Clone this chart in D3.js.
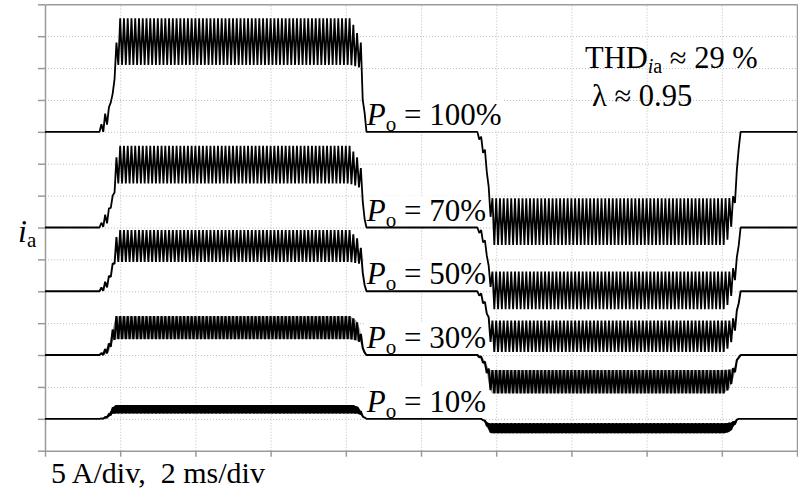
<!DOCTYPE html>
<html>
<head>
<meta charset="utf-8">
<script src="https://cdn.jsdelivr.net/npm/d3@7"></script>
<style>
body { margin: 0; background: #fff; }
svg { display: block; font-family: "Liberation Serif", "Times New Roman", serif; }
</style>
</head>
<body>
<svg id="chart" width="798" height="491"></svg>
<script>
// scope settings: 2 ms/div across, 5 A/div up
var timeTicks = [0, 2, 4, 6, 8, 10, 12, 14, 16, 18, 20];
var divTicks = [0, 1, 2, 3, 4, 5, 6, 7, 8, 9, 10, 11, 12, 13, 14];
var ampsPerDiv = 5;
var ripplePeriod = 0.1; // ms, switching ripple

var powerLabels = ["100%", "70%", "50%", "30%", "10%"];
var traceOffsets = [10, 7, 5, 3, 1]; // zero level of each trace, divisions from bottom

// envelopes: [time ms, upper A, lower A]
var env100 = [[0,0,0],[1.42,0,0],[1.50,1.2,0],[1.56,2.3,0],[1.64,3.4,1.0],[1.72,4.0,2.0],[1.76,6.0,5.5],[1.82,6.0,6.0],
  [1.90,14,12],[1.95,17.8,10.5],[8.12,17.8,10.5],[8.30,15.5,10.2],[8.40,14,10],[8.45,6,5],[8.55,0,0],
  [11.45,0,0],[11.55,0,-1.2],[11.65,-1.5,-3.3],[11.72,-3.3,-4],[11.78,-8,-8.6],[11.86,-10.4,-14],[11.92,-10.4,-17.75],
  [18.05,-10.4,-17.75],[18.20,-10.4,-16.5],[18.34,-10,-12],[18.40,-6,-7],[18.48,0,0],[20,0,0]];
var env70 = [[0,0,0],[1.44,0,0],[1.52,1.0,0],[1.60,2.0,0.3],[1.70,3.0,1.0],[1.76,4.5,3.5],[1.84,5.5,5],
  [1.90,11,8],[1.95,12.8,6.9],[8.10,12.8,6.9],[8.30,11,6.5],[8.42,9,6],[8.46,4,3.5],[8.52,0,0],
  [11.48,0,0],[11.56,0,-1],[11.66,-1,-2.5],[11.74,-3,-4],[11.80,-6,-6.5],[11.88,-6.9,-11],[11.93,-6.9,-12.8],
  [18.08,-6.9,-12.8],[18.22,-6.9,-11.5],[18.36,-6,-8],[18.42,-4,-4.5],[18.50,0,0],[20,0,0]];
var env50 = [[0,0,0],[1.44,0,0],[1.52,0.8,0],[1.60,1.5,0.2],[1.70,2.4,1.0],[1.78,3.5,3],[1.86,7,4.5],[1.93,9.6,4.6],
  [8.10,9.6,4.6],[8.30,8.3,4.4],[8.42,6.5,4.2],[8.46,3,2.5],[8.52,0,0],
  [11.48,0,0],[11.56,0,-0.8],[11.66,-0.8,-2],[11.74,-2.5,-3],[11.82,-4.6,-7],[11.90,-4.6,-9.5],
  [18.08,-4.6,-9.5],[18.22,-4.6,-8.5],[18.36,-4,-6],[18.42,-2.5,-3],[18.50,0,0],[20,0,0]];
var env30 = [[0,0,0],[1.44,0,0],[1.54,0.5,0],[1.64,1.2,0.2],[1.72,2,0.8],[1.80,4,2.2],[1.88,6.1,2.5],
  [8.12,6.1,2.5],[8.28,5.4,2.3],[8.38,4,2],[8.46,1.2,1],[8.52,0,0],
  [11.48,0,0],[11.56,0,-0.4],[11.66,-0.6,-1.3],[11.74,-1.5,-2.5],[11.82,-2.35,-5],[11.88,-2.35,-6],
  [18.06,-2.35,-6],[18.20,-2.3,-5.3],[18.32,-2,-3.5],[18.42,-0.5,-0.8],[18.48,0,0],[20,0,0]];
var env10 = [[0,0,0],[1.46,0,0],[1.60,0.3,0],[1.70,0.8,0.3],[1.80,1.8,0.8],[1.88,2.15,0.85],
  [8.20,2.15,0.85],[8.34,1.8,0.8],[8.44,0.8,0.4],[8.52,0,0],
  [11.62,0,0],[11.72,-0.3,-0.8],[11.80,-0.7,-1.8],[11.86,-0.7,-2.25],
  [18.08,-0.7,-2.25],[18.22,-0.6,-2.0],[18.34,-0.3,-1.0],[18.44,0,0],[20,0,0]];
var envelopes = [env100, env70, env50, env30, env10];

var svg = d3.select("#chart");
var plotLeft = 45, plotRight = 797, plotTop = 4.3, plotBottom = 450.7;

var x = d3.scaleLinear().domain([0, 20]).range([plotLeft, plotRight]);
var y = d3.scaleLinear().domain([0, 14]).range([plotBottom, plotTop]);

// dotted grid
svg.append("g")
    .attr("transform", "translate(" + plotLeft + ",0)")
    .call(d3.axisLeft(y).tickValues(divTicks.slice(1, -1)).tickSize(-(plotRight - plotLeft)).tickFormat(""))
    .call(function(g) { g.select(".domain").remove(); })
    .selectAll("line").attr("stroke", "#bdbdbd").attr("stroke-dasharray", "1,2");
svg.append("g")
    .attr("transform", "translate(0," + plotBottom + ")")
    .call(d3.axisBottom(x).tickValues(timeTicks.slice(1, -1)).tickSize(-(plotBottom - plotTop)).tickFormat(""))
    .call(function(g) { g.select(".domain").remove(); })
    .selectAll("line").attr("stroke", "#bdbdbd").attr("stroke-dasharray", "1,2");

// frame with ticks
var frame = "#9a9a9a";
svg.append("g")
    .attr("transform", "translate(" + plotLeft + ",0)")
    .call(d3.axisLeft(y).tickValues(divTicks).tickSize(7).tickSizeOuter(0).tickFormat(""))
    .call(function(g) { g.selectAll("line, path").attr("stroke", frame).attr("stroke-width", 1.5); });
svg.append("g")
    .attr("transform", "translate(0," + plotBottom + ")")
    .call(d3.axisBottom(x).tickValues(timeTicks).tickSize(6).tickSizeOuter(0).tickFormat(""))
    .call(function(g) { g.selectAll("line, path").attr("stroke", frame).attr("stroke-width", 1.5); });
svg.append("g")
    .attr("transform", "translate(0," + plotTop + ")")
    .call(d3.axisTop(x).tickValues([]).tickSizeOuter(0))
    .call(function(g) { g.selectAll("path").attr("stroke", frame).attr("stroke-width", 1.5); });
svg.append("g")
    .attr("transform", "translate(" + plotRight + ",0)")
    .call(d3.axisRight(y).tickValues([]).tickSizeOuter(0))
    .call(function(g) { g.selectAll("path").attr("stroke", frame).attr("stroke-width", 1.5); });

// power labels with white boxes (under the traces, over the grid)
powerLabels.forEach(function(lab, i) {
  var g = svg.append("g");
  var txt = g.append("text")
      .attr("x", x(8.56))
      .attr("y", y(traceOffsets[i]) - 7)
      .attr("font-size", 31);
  txt.append("tspan").attr("font-style", "italic").text("P");
  txt.append("tspan").attr("font-size", 21).attr("dy", 6).text("o");
  txt.append("tspan").attr("dy", -6).text(" = " + lab);
  var bb = txt.node().getBBox();
  g.insert("rect", "text")
      .attr("x", bb.x - 1).attr("y", bb.y + 3)
      .attr("width", bb.width + 2).attr("height", y(traceOffsets[i]) - 1.5 - (bb.y + 3))
      .attr("fill", "#fff");
});

// traces: ripple zigzag between upper and lower envelope
function tracePoints(env) {
  var times = env.map(function(d) { return d[0]; });
  var hi = d3.scaleLinear().domain(times).range(env.map(function(d) { return d[1]; }));
  var lo = d3.scaleLinear().domain(times).range(env.map(function(d) { return d[2]; }));
  var half = ripplePeriod / 2;
  var n = Math.round(20 / half);
  var pts = [];
  for (var k = 0; k <= n; k++) {
    var t = k * half;
    pts.push([t, k % 2 == 0 ? hi(t) : lo(t)]);
  }
  return pts;
}

// small traces look nearly solid on the scope
var strokeWidths = [1.8, 1.8, 1.9, 2.1, 1.8];
var bandShade = [0, 0, 0, 0.35, 1];

envelopes.forEach(function(env, i) {
  var off = traceOffsets[i];
  if (bandShade[i] > 0) {
    var band = d3.area()
        .x(function(d) { return x(d[0]); })
        .y0(function(d) { return y(off + d[2] / ampsPerDiv); })
        .y1(function(d) { return y(off + d[1] / ampsPerDiv); });
    svg.append("path")
        .datum(env)
        .attr("d", band)
        .attr("fill", "#000")
        .attr("fill-opacity", bandShade[i]);
  }
  var line = d3.line()
      .x(function(d) { return x(d[0]); })
      .y(function(d) { return y(off + d[1] / ampsPerDiv); });
  svg.append("path")
      .datum(tracePoints(env))
      .attr("d", line)
      .attr("fill", "none")
      .attr("stroke", "#000")
      .attr("stroke-width", strokeWidths[i])
      .attr("stroke-linejoin", "bevel");
});

// annotations
var thd = svg.append("text").attr("x", 585).attr("y", 68).attr("font-size", 30.5);
thd.append("tspan").text("THD");
thd.append("tspan").attr("font-size", 20).attr("font-style", "italic").attr("dy", 5).text("i");
thd.append("tspan").attr("font-size", 20).text("a");
thd.append("tspan").attr("dy", -5).text(" \u2248 29 %");

svg.append("text").attr("x", 592).attr("y", 106).attr("font-size", 30.5).text("\u03bb \u2248 0.95");

var ia = svg.append("text").attr("x", 18).attr("y", 242).attr("font-size", 32);
ia.append("tspan").attr("font-style", "italic").text("i");
ia.append("tspan").attr("font-size", 21).attr("dy", 5).text("a");

svg.append("text").attr("x", 51).attr("y", 483).attr("font-size", 30)
    .style("white-space", "pre").text("5 A/div,  2 ms/div");
</script>
</body>
</html>
